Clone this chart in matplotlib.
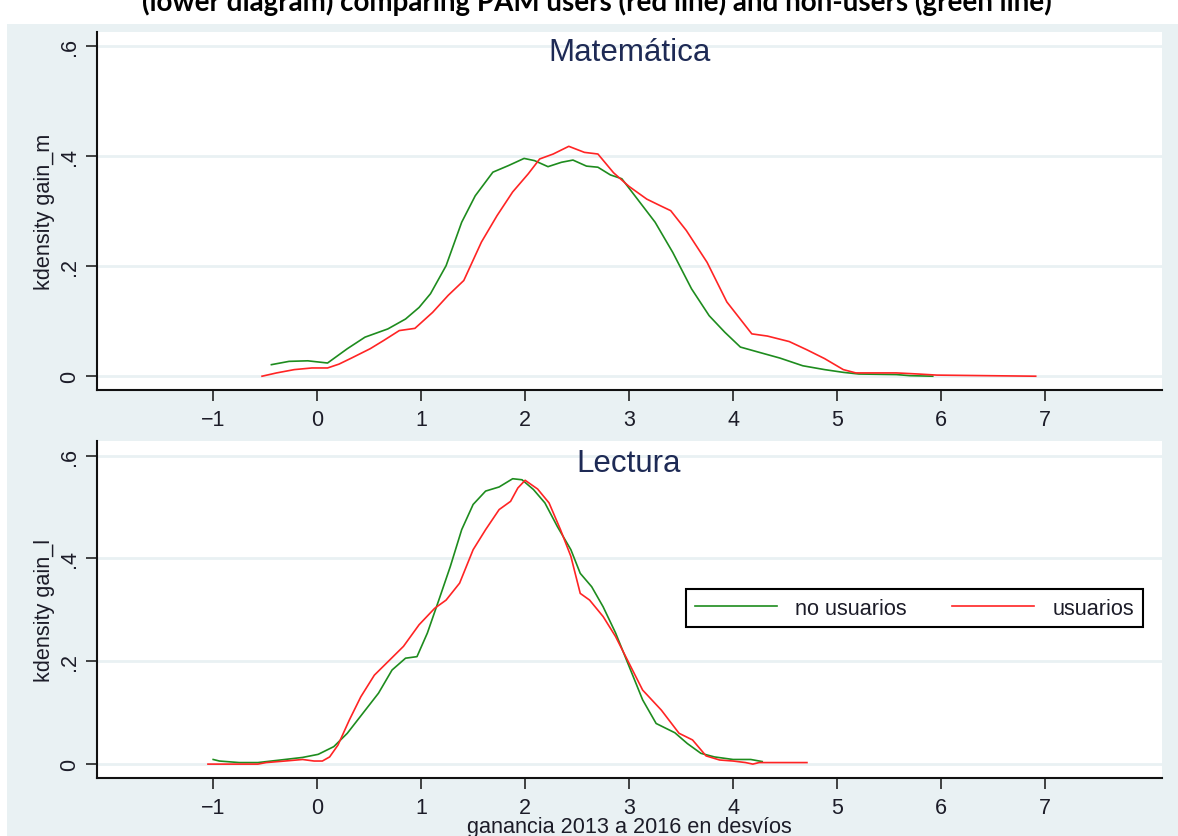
import matplotlib
matplotlib.use('Agg')
import matplotlib.pyplot as plt
from matplotlib.patches import Rectangle

# kernel density curves
mat_no_x = [-0.44, -0.27, -0.09, 0.10, 0.29, 0.46, 0.68, 0.85, 0.98, 1.09, 1.24, 1.39, 1.52, 1.69,
            1.84, 1.99, 2.09, 2.22, 2.35, 2.46, 2.59, 2.70, 2.82, 2.93, 3.08, 3.25, 3.42, 3.60,
            3.77, 3.92, 4.07, 4.24, 4.45, 4.67, 4.88, 5.06, 5.21, 5.57, 5.70, 5.92]
mat_no_y = [0.021, 0.027, 0.028, 0.024, 0.050, 0.071, 0.086, 0.104, 0.125, 0.150, 0.201, 0.280,
            0.328, 0.371, 0.383, 0.396, 0.392, 0.381, 0.389, 0.393, 0.382, 0.380, 0.366, 0.359,
            0.322, 0.280, 0.225, 0.159, 0.110, 0.080, 0.053, 0.044, 0.033, 0.019, 0.012, 0.007,
            0.004, 0.003, 0.001, 0.0]

mat_us_x = [-0.53, -0.39, -0.22, -0.05, 0.10, 0.21, 0.33, 0.51, 0.64, 0.79, 0.94, 1.11, 1.26,
            1.41, 1.58, 1.73, 1.88, 2.03, 2.14, 2.27, 2.42, 2.57, 2.70, 2.85, 3.00, 3.17, 3.30,
            3.40, 3.55, 3.75, 3.94, 4.18, 4.33, 4.54, 4.71, 4.88, 5.06, 5.18, 5.57, 5.78, 5.96, 6.91]
mat_us_y = [0.0, 0.006, 0.012, 0.015, 0.015, 0.022, 0.033, 0.050, 0.065, 0.083, 0.087, 0.116,
            0.147, 0.174, 0.244, 0.292, 0.335, 0.368, 0.395, 0.404, 0.418, 0.407, 0.404, 0.370,
            0.345, 0.322, 0.310, 0.301, 0.265, 0.207, 0.135, 0.077, 0.073, 0.063, 0.048, 0.032,
            0.012, 0.006, 0.006, 0.004, 0.002, 0.0]

lec_no_x = [-1.00, -0.94, -0.75, -0.57, -0.44, -0.31, -0.14, 0.01, 0.16, 0.29, 0.44, 0.59, 0.72,
            0.85, 0.96, 1.06, 1.17, 1.28, 1.39, 1.50, 1.62, 1.75, 1.88, 1.97, 2.08, 2.19, 2.31,
            2.44, 2.53, 2.64, 2.75, 2.87, 3.00, 3.13, 3.26, 3.44, 3.56, 3.69, 3.82, 4.00, 4.17, 4.28]
lec_no_y = [0.009, 0.006, 0.003, 0.003, 0.006, 0.009, 0.013, 0.019, 0.034, 0.060, 0.099, 0.138,
            0.183, 0.206, 0.209, 0.255, 0.319, 0.384, 0.456, 0.505, 0.531, 0.539, 0.555, 0.553,
            0.534, 0.508, 0.462, 0.417, 0.371, 0.345, 0.306, 0.255, 0.190, 0.125, 0.079, 0.061,
            0.040, 0.021, 0.014, 0.009, 0.009, 0.005]

lec_us_x = [-1.05, -0.75, -0.57, -0.49, -0.31, -0.14, -0.03, 0.05, 0.12, 0.20, 0.31, 0.42, 0.55,
            0.68, 0.83, 0.98, 1.13, 1.24, 1.37, 1.50, 1.62, 1.75, 1.86, 1.93, 2.00, 2.12, 2.23,
            2.34, 2.44, 2.53, 2.62, 2.75, 2.87, 3.00, 3.13, 3.31, 3.48, 3.61, 3.74, 3.87, 4.00,
            4.12, 4.19, 4.25, 4.71]
lec_us_y = [0.0, 0.0, 0.0, 0.003, 0.006, 0.009, 0.006, 0.006, 0.014, 0.037, 0.086, 0.131, 0.173,
            0.199, 0.229, 0.271, 0.303, 0.319, 0.352, 0.417, 0.456, 0.495, 0.511, 0.537, 0.552,
            0.535, 0.508, 0.456, 0.404, 0.332, 0.319, 0.287, 0.248, 0.196, 0.144, 0.105, 0.060,
            0.047, 0.016, 0.008, 0.006, 0.003, 0.0, 0.003, 0.003]

x_ticks = [-1, 0, 1, 2, 3, 4, 5, 6, 7]
y_ticks = [0, 0.2, 0.4, 0.6]
y_tick_labels = ['0', '.2', '.4', '.6']

green = '#1e8c1e'
red = '#ff2424'
bg = '#e9f1f3'
txt = '#1c1c28'

plt.rcParams['font.family'] = ['Liberation Sans', 'DejaVu Sans']

fig = plt.figure(figsize=(11.78, 8.37), dpi=100, facecolor='white')
fig.patches.append(Rectangle((7 / 1178, 0), 1, 1 - 25 / 837, transform=fig.transFigure,
                             facecolor=bg, edgecolor='none', zorder=-10))

# cut off caption at the very top
cap = fig.text(597 / 1178, 1 - 11 / 837,
               '(lower diagram) comparing PAM users (red line) and non-users (green line)',
               ha='center', va='baseline', fontsize=18, fontweight='bold',
               family=['Lato', 'DejaVu Sans'], color='black')

ax1 = fig.add_axes([0.0821, 0.5329, 0.9039, 0.4281])
ax2 = fig.add_axes([0.0821, 0.0693, 0.9039, 0.4030])

panels = [
    (ax1, mat_no_x, mat_no_y, mat_us_x, mat_us_y, 'Matemática', 'kdensity gain_m', (-0.025, 0.6265), 0.921),
    (ax2, lec_no_x, lec_no_y, lec_us_x, lec_us_y, 'Lectura', 'kdensity gain_l', (-0.027, 0.629), 0.910),
]

for ax, nx, ny, ux, uy, title, ylab, ylim, ty in panels:
    ax.set_facecolor('white')
    for y in y_ticks:
        ax.axhline(y, color=bg, lw=2, zorder=0)
    ax.plot(nx, ny, color=green, lw=1.2, label='no usuarios')
    ax.plot(ux, uy, color=red, lw=1.2, label='usuarios')
    ax.set_xlim(-2.12, 8.12)
    ax.set_ylim(*ylim)
    ax.set_xticks(x_ticks)
    ax.set_yticks(y_ticks)
    ax.set_yticklabels(y_tick_labels, rotation=90, va='center')
    for s in ['top', 'right']:
        ax.spines[s].set_visible(False)
    for s in ['left', 'bottom']:
        ax.spines[s].set_linewidth(1.5)
        ax.spines[s].set_color('#111111')
    ax.tick_params(axis='both', length=8, width=1.1, color='#111111',
                   labelsize=15.5, labelcolor=txt)
    ax.tick_params(axis='x', pad=6)
    ax.tick_params(axis='y', pad=4)
    ax.text(0.5, ty, title, transform=ax.transAxes, ha='center', va='baseline',
            fontsize=22.5, color='#1e2a55')
    ax.set_ylabel(ylab, fontsize=15.6, color=txt)
    ax.yaxis.set_label_coords(-0.0486, 0.5)
    ax.yaxis.label.set_va('center')

ax2.set_xlabel('ganancia 2013 a 2016 en desvíos', fontsize=15.6, color=txt)
ax2.xaxis.set_label_coords(0.5, -0.144)
ax2.xaxis.label.set_va('center')

leg = ax2.legend(loc='upper left', bbox_to_anchor=(0.5534, 0.5603), borderaxespad=0,
                 ncol=2, fontsize=15.6, handlelength=3.8, handletextpad=0.83,
                 columnspacing=2.1, borderpad=0.4, fancybox=False, framealpha=1)
leg.get_frame().set_edgecolor('black')
leg.get_frame().set_linewidth(1.5)
for t in leg.get_texts():
    t.set_color(txt)

# scale the caption to its width in the picture
fig.canvas.draw()
w = cap.get_window_extent().width
cap.set_fontsize(18 * 910 / w)

fig.savefig('out.png', dpi=100, facecolor='white')
